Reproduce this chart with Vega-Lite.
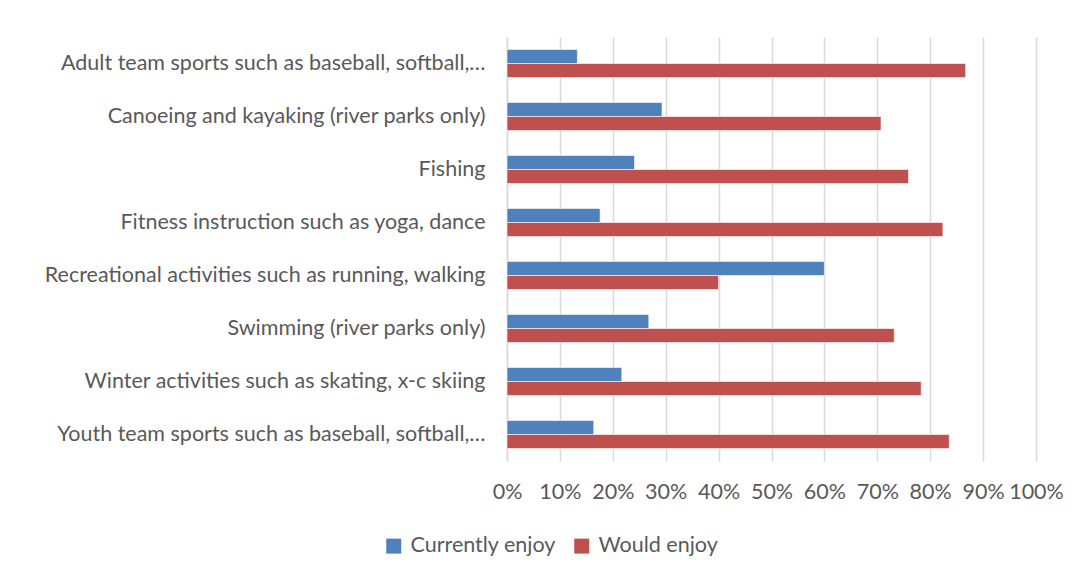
{
  "$schema": "https://vega.github.io/schema/vega-lite/v6.json",
  "autosize": {"type": "none"},
  "padding": {"left": 507, "top": 37, "right": 41, "bottom": 117},
  "width": 529,
  "height": 424,
  "background": "white",
  "data": {
    "values": [
      {"activity": "Adult team sports such as baseball, softball,…", "series": "Currently enjoy", "value": 0.133},
      {"activity": "Adult team sports such as baseball, softball,…", "series": "Would enjoy", "value": 0.867},
      {"activity": "Canoeing and kayaking (river parks only)", "series": "Currently enjoy", "value": 0.293},
      {"activity": "Canoeing and kayaking (river parks only)", "series": "Would enjoy", "value": 0.707},
      {"activity": "Fishing", "series": "Currently enjoy", "value": 0.241},
      {"activity": "Fishing", "series": "Would enjoy", "value": 0.759},
      {"activity": "Fitness instruction such as yoga, dance", "series": "Currently enjoy", "value": 0.176},
      {"activity": "Fitness instruction such as yoga, dance", "series": "Would enjoy", "value": 0.824},
      {"activity": "Recreational activities such as running, walking", "series": "Currently enjoy", "value": 0.600},
      {"activity": "Recreational activities such as running, walking", "series": "Would enjoy", "value": 0.400},
      {"activity": "Swimming (river parks only)", "series": "Currently enjoy", "value": 0.268},
      {"activity": "Swimming (river parks only)", "series": "Would enjoy", "value": 0.732},
      {"activity": "Winter activities such as skating, x-c skiing", "series": "Currently enjoy", "value": 0.217},
      {"activity": "Winter activities such as skating, x-c skiing", "series": "Would enjoy", "value": 0.783},
      {"activity": "Youth team sports such as baseball, softball,…", "series": "Currently enjoy", "value": 0.164},
      {"activity": "Youth team sports such as baseball, softball,…", "series": "Would enjoy", "value": 0.836}
    ]
  },
  "mark": {"type": "bar", "stroke": "white", "strokeOpacity": 0.6, "strokeWidth": 1},
  "encoding": {
    "y": {
      "field": "activity", "type": "nominal", "sort": null, "title": null,
      "scale": {"paddingInner": 0.47, "paddingOuter": 0.235},
      "axis": {"ticks": false, "domainColor": "#D9D9D9", "domainWidth": 1.5, "labelFont": "Lato", "labelFontSize": 21.5, "labelColor": "#595959", "labelPadding": 22, "labelLimit": 500}
    },
    "yOffset": {"field": "series", "type": "nominal", "sort": ["Currently enjoy", "Would enjoy"], "scale": {"paddingInner": 0, "paddingOuter": 0}},
    "x": {
      "field": "value", "type": "quantitative", "title": null,
      "scale": {"domain": [0, 1], "nice": false},
      "axis": {"format": ".0%", "values": [0,0.1,0.2,0.3,0.4,0.5,0.6,0.7,0.8,0.9,1], "labelOverlap": false, "labelFlush": false, "ticks": false, "domain": false, "gridColor": "#D9D9D9", "gridWidth": 1.5, "labelFont": "Lato", "labelFontSize": 21.5, "labelColor": "#595959", "labelPadding": 20}
    },
    "color": {
      "field": "series", "type": "nominal", "title": null,
      "scale": {"domain": ["Currently enjoy", "Would enjoy"], "range": ["#4F81BD", "#C0504D"]},
      "legend": {"orient": "none", "legendX": -124, "legendY": 498, "direction": "horizontal", "symbolType": "square", "symbolSize": 225, "symbolStrokeWidth": 0, "labelFont": "Lato", "labelFontSize": 21.5, "labelColor": "#595959", "columnPadding": 15, "labelOffset": 6, "labelLimit": 300}
    }
  },
  "config": {"view": {"stroke": null}}
}
